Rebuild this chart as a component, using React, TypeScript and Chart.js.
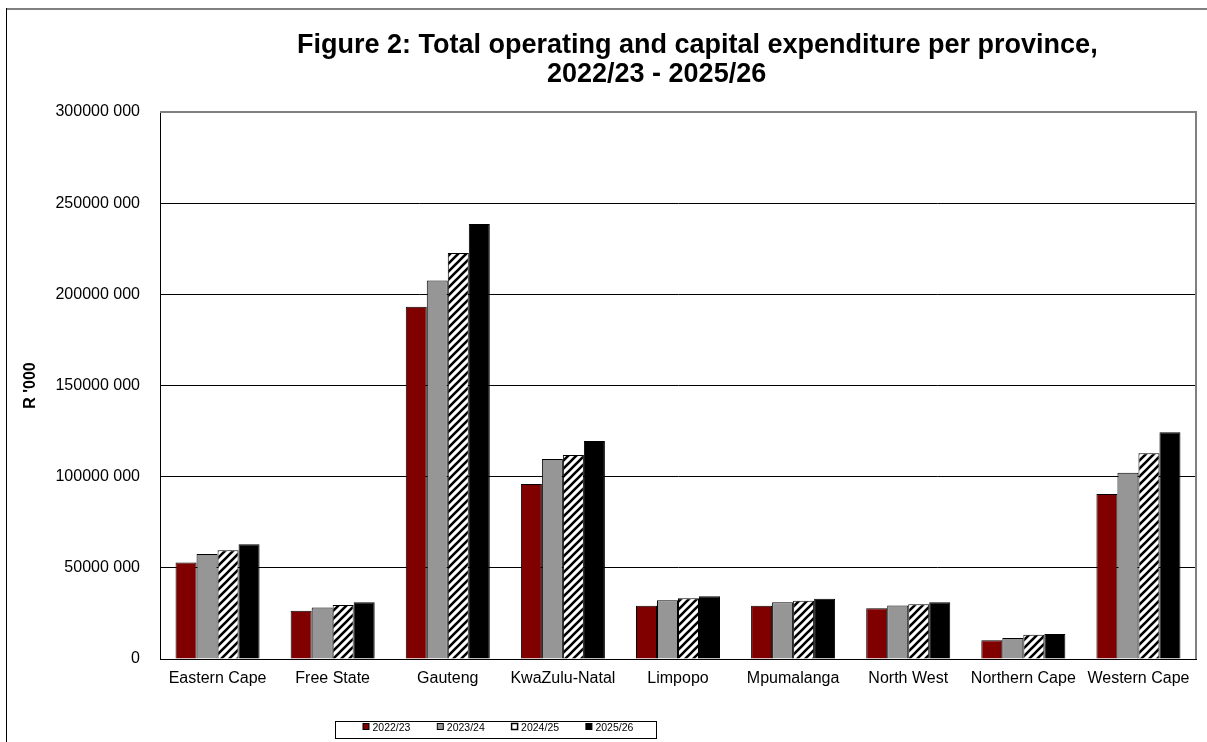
import React, { useEffect, useRef } from 'react';
import { Chart, registerables } from 'chart.js';

Chart.register(...registerables);

const categories = [
  'Eastern Cape',
  'Free State',
  'Gauteng',
  'KwaZulu-Natal',
  'Limpopo',
  'Mpumalanga',
  'North West',
  'Northern Cape',
  'Western Cape',
];

const seriesLabels = ['2022/23', '2023/24', '2024/25', '2025/26'];

const values2022 = [52900000, 26500000, 193200000, 96000000, 29200000, 29200000, 27800000, 10300000, 90500000];
const values2023 = [57600000, 28300000, 207600000, 109700000, 32200000, 31100000, 29400000, 11500000, 102200000];
const values2024 = [59600000, 29600000, 222700000, 111900000, 33300000, 32000000, 30000000, 13300000, 112800000];
const values2025 = [62900000, 31100000, 238600000, 119600000, 34400000, 33100000, 31100000, 13700000, 124300000];

const yMin = 0;
const yMax = 300000000;
const yStep = 50000000;

const titleLines = [
  'Figure 2: Total operating and capital expenditure per province,',
  '2022/23 - 2025/26',
];
const yAxisTitle = "R '000";

const FONT = '"Liberation Sans", Arial, Helvetica, sans-serif';

function formatTick(v: number): string {
  if (v === 0) return '0';
  const thousands = Math.floor(v / 1000);
  const rest = String(v % 1000).padStart(3, '0');
  return `${thousands} ${rest}`;
}

function makeHatch(): CanvasPattern | string {
  const c = document.createElement('canvas');
  c.width = 8;
  c.height = 8;
  const g = c.getContext('2d');
  if (!g) return '#fff';
  g.fillStyle = '#fff';
  g.fillRect(0, 0, 8, 8);
  g.strokeStyle = '#000';
  g.lineWidth = 2.6;
  g.beginPath();
  g.moveTo(-2, 10);
  g.lineTo(10, -2);
  g.moveTo(-6, 6);
  g.lineTo(6, -6);
  g.moveTo(2, 14);
  g.lineTo(14, 2);
  g.stroke();
  return g.createPattern(c, 'repeat') || '#fff';
}

const legendSwatches = ['#800000', '#969696', '#ffffff', '#000000'];

const decorPlugin = {
  id: 'decor',
  afterDraw(chart: any) {
    const { ctx, chartArea: a } = chart;
    ctx.save();
    // plot frame (top/right)
    ctx.strokeStyle = '#808080';
    ctx.lineWidth = 2;
    ctx.beginPath();
    ctx.moveTo(a.left, a.top);
    ctx.lineTo(a.right, a.top);
    ctx.lineTo(a.right, a.bottom);
    ctx.stroke();
    // outer frame
    ctx.strokeStyle = '#808080';
    ctx.lineWidth = 2;
    ctx.beginPath();
    ctx.moveTo(6, 9);
    ctx.lineTo(chart.width, 9);
    ctx.stroke();
    ctx.strokeStyle = '#000';
    ctx.lineWidth = 1;
    ctx.beginPath();
    ctx.moveTo(6.5, 8);
    ctx.lineTo(6.5, chart.height);
    ctx.stroke();
    // title
    ctx.fillStyle = '#000';
    ctx.font = `bold 27px ${FONT}`;
    ctx.textAlign = 'left';
    ctx.textBaseline = 'alphabetic';
    ctx.fillText(titleLines[0], 297, 53);
    ctx.fillText(titleLines[1], 547, 82);
    // legend
    ctx.strokeStyle = '#000';
    ctx.lineWidth = 1;
    ctx.strokeRect(335.5, 721.5, 321, 17);
    ctx.font = `10.5px ${FONT}`;
    chart.data.datasets.forEach((ds: any, i: number) => {
      const x = 363 + i * 74.3;
      ctx.fillStyle = legendSwatches[i];
      ctx.fillRect(x, 723.5, 6, 6);
      ctx.strokeStyle = '#000';
      ctx.lineWidth = i === 2 ? 1.5 : 1;
      ctx.strokeRect(x, 723.5, 6, 6);
      ctx.fillStyle = '#000';
      ctx.fillText(ds.label, x + 9.5, 731);
    });
    ctx.restore();
  },
};

export default function App() {
  const ref = useRef<HTMLCanvasElement | null>(null);

  useEffect(() => {
    if (!ref.current) return;
    const hatch = makeHatch();
    const colors: any[] = ['#800000', '#969696', hatch, '#000000'];
    const seriesValues = [values2022, values2023, values2024, values2025];
    const chart = new Chart(ref.current, {
      type: 'bar',
      data: {
        labels: categories,
        datasets: seriesLabels.map((label, i) => ({
          label,
          data: seriesValues[i],
          backgroundColor: colors[i],
          borderColor: '#000',
          borderWidth: 1,
          barPercentage: 1,
          categoryPercentage: 0.73,
        })),
      },
      options: {
        responsive: false,
        animation: false,
        devicePixelRatio: 1,
        layout: { padding: { left: 0, top: 112, right: 11, bottom: 0 } },
        plugins: {
          legend: { display: false },
          title: { display: false },
          tooltip: { enabled: false },
        },
        scales: {
          x: {
            grid: { display: false, drawTicks: false },
            border: { display: true, color: '#000', width: 1 },
            ticks: {
              color: '#000',
              font: { family: FONT, size: 16 },
              padding: 10,
              maxRotation: 0,
              autoSkip: false,
            },
            afterFit: (s: any) => {
              s.height = 83;
            },
          },
          y: {
            min: yMin,
            max: yMax,
            grid: { color: '#000', lineWidth: 1, drawTicks: false },
            border: { display: true, color: '#000', width: 1 },
            ticks: {
              stepSize: yStep,
              color: '#000',
              font: { family: FONT, size: 16 },
              padding: 20,
              callback: (v: any) => formatTick(Number(v)),
            },
            title: {
              display: true,
              text: yAxisTitle,
              color: '#000',
              font: { family: FONT, size: 16, weight: 'bold' },
              padding: { top: 21, bottom: 0 },
            },
            afterFit: (s: any) => {
              s.width = 160;
            },
          },
        },
      },
      plugins: [decorPlugin],
    });
    return () => chart.destroy();
  }, []);

  return (
    <div style={{ position: 'fixed', left: 0, top: 0, width: 1207, height: 742, background: '#fff' }}>
      <canvas ref={ref} width={1207} height={742} style={{ display: 'block' }} />
    </div>
  );
}
